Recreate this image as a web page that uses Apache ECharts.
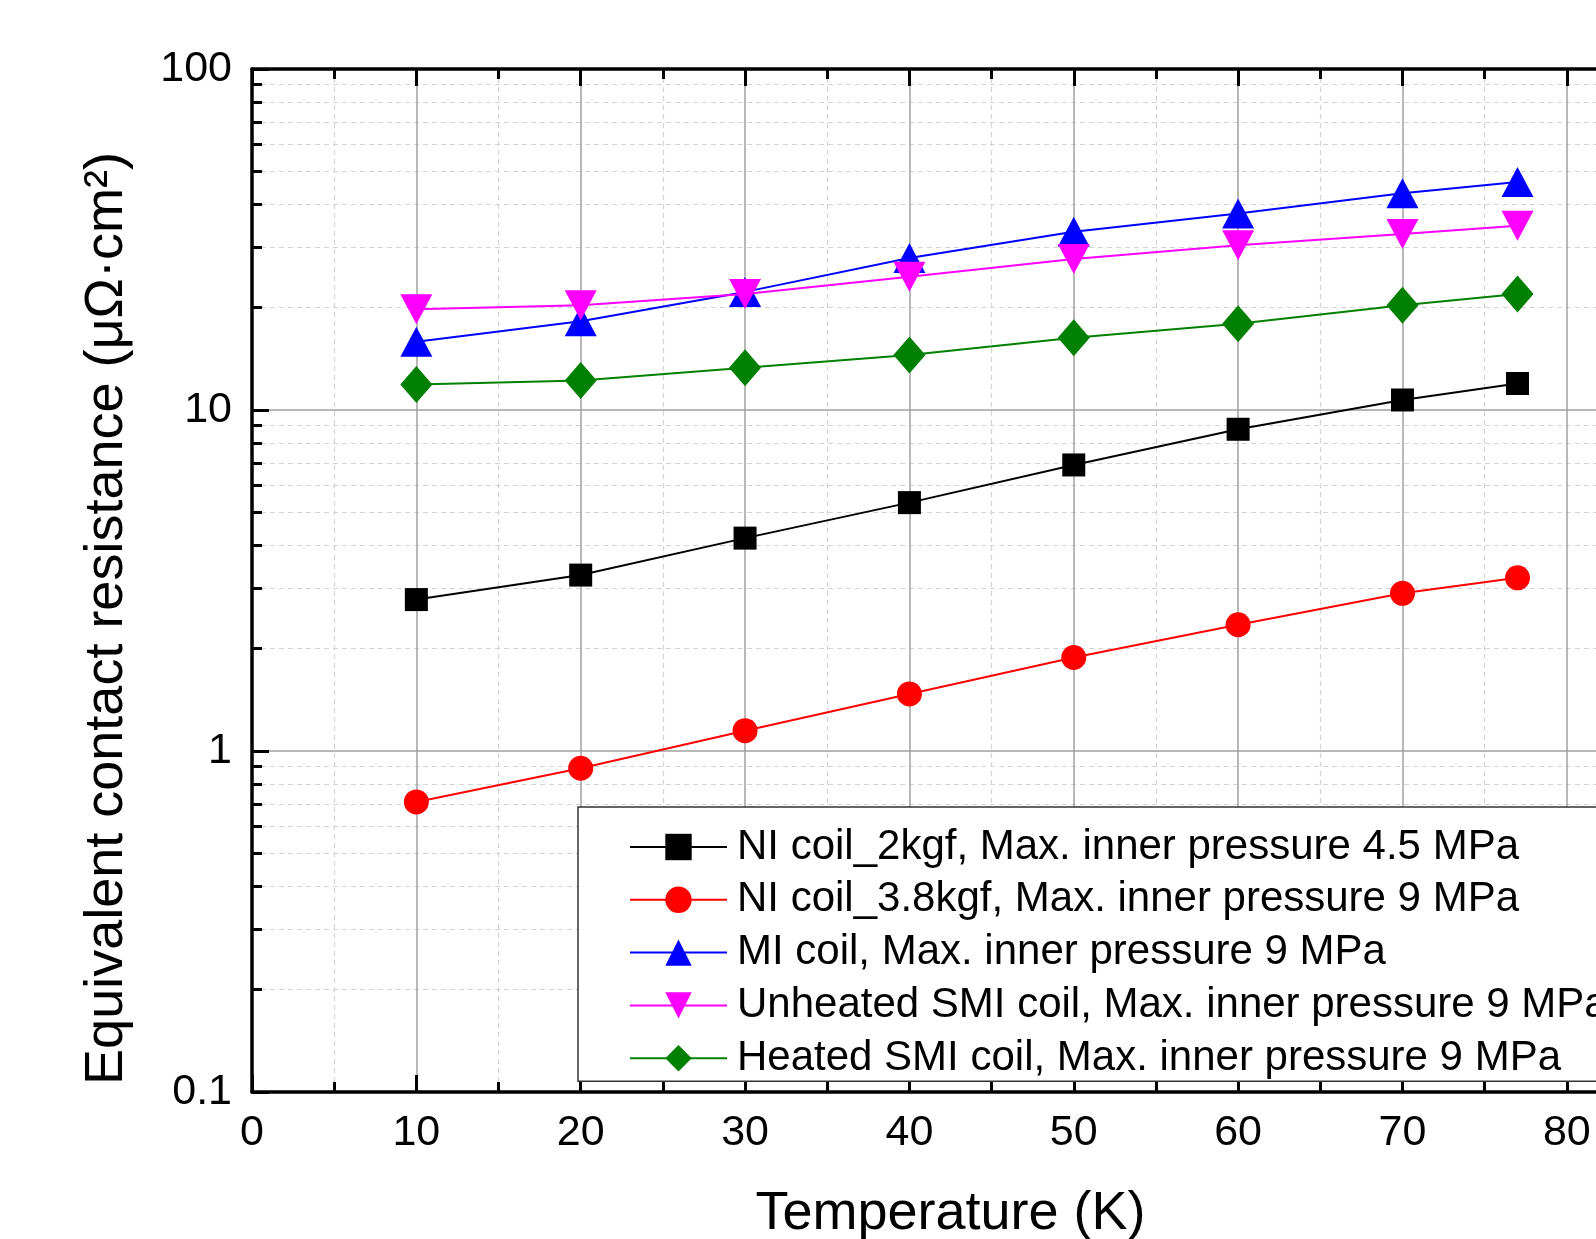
<!DOCTYPE html>
<html>
<head>
<meta charset="utf-8">
<script src="https://cdn.jsdelivr.net/npm/echarts@6/dist/echarts.min.js"></script>
<style>
html,body{margin:0;padding:0;background:#fff;overflow:hidden;}
#chart{width:1596px;height:1239px;}
</style>
</head>
<body>
<div id="chart"></div>
<script>
// ---- data ----
const temperature = [10, 20, 30, 40, 50, 60, 70, 77];
const niCoil2kgf   = [2.78, 3.28, 4.21, 5.35, 6.90, 8.78, 10.7, 11.96];
const niCoil38kgf  = [0.709, 0.89, 1.147, 1.47, 1.88, 2.345, 2.90, 3.22];
const miCoil       = [15.85, 18.2, 22.2, 27.9, 33.3, 37.7, 43.2, 46.6];
const unheatedSMI  = [19.75, 20.3, 21.9, 24.6, 27.7, 30.4, 32.8, 34.7];
const heatedSMI    = [11.87, 12.2, 13.3, 14.5, 16.3, 17.9, 20.3, 21.9];
const seriesNames = [
  'NI coil_2kgf, Max. inner pressure 4.5 MPa',
  'NI coil_3.8kgf, Max. inner pressure 9 MPa',
  'MI coil, Max. inner pressure 9 MPa',
  'Unheated SMI coil, Max. inner pressure 9 MPa',
  'Heated SMI coil, Max. inner pressure 9 MPa'
];
const yTickLabels = { 0.1: '0.1', 1: '1', 10: '10', 100: '100' };
const xRange = [0, 85];
const yRange = [0.1, 100];

const FONT = "'Liberation Sans', Arial, Helvetica, sans-serif";
const pairs = vals => temperature.map((t, i) => [t, vals[i]]);

const seriesDefs = [
  { vals: niCoil2kgf,  color: '#000000', symbol: 'rect',     size: 23, rot: 0 },
  { vals: niCoil38kgf, color: '#ff0000', symbol: 'circle',   size: 25, rot: 0 },
  { vals: miCoil,      color: '#0000ff', symbol: 'triangle', size: [32, 30], rot: 0 },
  { vals: unheatedSMI, color: '#ff00ff', symbol: 'triangle', size: [32, 30], rot: 180 },
  { vals: heatedSMI,   color: '#008000', symbol: 'diamond',  size: [32, 37], rot: 0 }
];

const chart = echarts.init(document.getElementById('chart'), null, { renderer: 'canvas' });

const axisLineStyle = { color: '#000', width: 3.5 };

const option = {
  backgroundColor: '#ffffff',
  animation: false,
  textStyle: { fontFamily: FONT },
  grid: { left: 252, top: 69, width: 1397, height: 1023, containLabel: false, outerBoundsMode: 'none' },
  legend: {
    data: seriesNames,
    orient: 'vertical',
    left: 578,
    top: 807,
    padding: [19, 200, 2, 51],
    itemWidth: 97,
    itemHeight: 33,
    itemGap: 10.8,
    backgroundColor: '#ffffff',
    borderColor: '#333333',
    borderWidth: 1.5,
    borderRadius: 0,
    textStyle: { fontFamily: FONT, fontSize: 42, color: '#000', lineHeight: 40, padding: [0, 0, 0, 5] }
  },
  xAxis: [
    {
      type: 'value', position: 'bottom', min: xRange[0], max: xRange[1], interval: 10,
      name: 'Temperature (K)', nameLocation: 'middle', nameGap: 95,
      nameTextStyle: { fontFamily: FONT, fontSize: 54, color: '#000' },
      axisLine: { show: true, onZero: false, lineStyle: axisLineStyle },
      axisTick: { show: true, inside: true, length: 17, lineStyle: { color: '#000', width: 3 } },
      minorTick: { show: true, splitNumber: 2, length: 10, lineStyle: { color: '#000', width: 3 } },
      axisLabel: { show: true, margin: 20, fontFamily: FONT, fontSize: 43, color: '#000' },
      splitLine: { show: true, lineStyle: { color: '#a0a0a0', width: 1.5 } },
      minorSplitLine: { show: true, lineStyle: { color: '#d4d4d4', width: 1.2, type: [5, 4] } }
    },
    {
      type: 'value', position: 'top', min: xRange[0], max: xRange[1], interval: 10,
      axisLine: { show: true, onZero: false, lineStyle: axisLineStyle },
      axisTick: { show: true, inside: true, length: 17, lineStyle: { color: '#000', width: 3 } },
      minorTick: { show: true, splitNumber: 2, length: 10, lineStyle: { color: '#000', width: 3 } },
      axisLabel: { show: false },
      splitLine: { show: false }
    }
  ],
  yAxis: [
    {
      type: 'log', logBase: 10, min: yRange[0], max: yRange[1],
      name: 'Equivalent contact resistance (μΩ·cm²)', nameLocation: 'middle', nameGap: 118,
      nameTextStyle: { fontFamily: FONT, fontSize: 54, color: '#000', padding: [0, 76, 0, 0] },
      axisLine: { show: true, onZero: false, lineStyle: axisLineStyle },
      axisTick: { show: true, inside: true, length: 17, lineStyle: { color: '#000', width: 3 } },
      minorTick: { show: true, splitNumber: 9, length: 10, lineStyle: { color: '#000', width: 3 } },
      axisLabel: {
        show: true, margin: 20, fontFamily: FONT, fontSize: 43, color: '#000',
        formatter: v => (yTickLabels[v] !== undefined ? yTickLabels[v] : '')
      },
      splitLine: { show: true, lineStyle: { color: '#a0a0a0', width: 1.5 } },
      minorSplitLine: { show: true, lineStyle: { color: '#d4d4d4', width: 1.2, type: [5, 4] } }
    }
  ],
  series: seriesDefs.map((d, i) => ({
    name: seriesNames[i],
    type: 'line',
    xAxisIndex: 0,
    yAxisIndex: 0,
    data: pairs(d.vals),
    symbol: d.symbol,
    symbolSize: d.size,
    symbolRotate: d.rot,
    showAllSymbol: true,
    lineStyle: { color: d.color, width: 2 },
    itemStyle: { color: d.color, borderWidth: 0 },
    z: 3 + i
  }))
};

chart.setOption(option);
</script>
</body>
</html>
